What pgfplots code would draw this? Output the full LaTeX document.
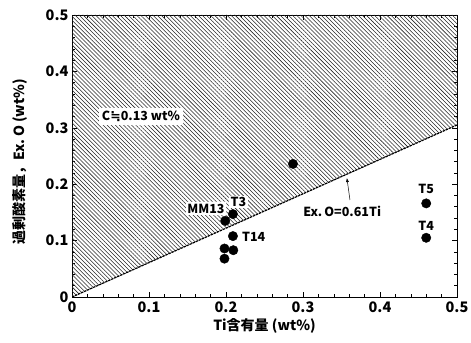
\documentclass[border=0pt]{standalone}
\usepackage{pgfplots}
\pgfplotsset{compat=1.18}
\usepackage{fontspec}
\setmainfont{Noto Sans CJK JP}
\newfontfamily\dejavu{DejaVu Sans}
\usetikzlibrary{patterns.meta,arrows.meta}
\begin{document}
\begin{tikzpicture}
\begin{axis}[
  scale only axis, width=385pt, height=282pt,
  xmin=0, xmax=0.5, ymin=0, ymax=0.5,
  xtick={0,0.1,0.2,0.3,0.4,0.5},
  ytick={0,0.1,0.2,0.3,0.4,0.5},
  xticklabels={0,0.1,0.2,0.3,0.4,0.5},
  yticklabels={0,0.1,0.2,0.3,0.4,0.5},
  minor tick num=4,
  tick align=inside,
  xtick pos=both, ytick pos=both,
  major tick length=5pt, minor tick length=3pt,
  axis line style={line width=0.9pt},
  tick style={black, line width=0.6pt},
  /pgf/number format/assume math mode=true,
  tick label style={font=\fontsize{14.5}{15}\selectfont\bfseries},
  xticklabel style={yshift=-1pt},
  xlabel={Ti含有量 (wt\%)},
  ylabel={過剰酸素量，Ex.\,O (wt\%)},
  every axis x label/.style={at={(axis description cs:0.5,-0.103)}, anchor=center, font=\fontsize{14}{15}\selectfont\bfseries},
  every axis y label/.style={at={(axis description cs:-0.135,0.48)}, anchor=center, rotate=90, font=\fontsize{14}{15}\selectfont\bfseries},
]
\addplot[draw=none, pattern={Lines[angle=-45,distance=2.9pt,line width=0.55pt]}, pattern color=black!85]
  coordinates {(0,0) (0.5,0.305) (0.5,0.5) (0,0.5)} -- cycle;
\addplot[black, line width=1.2pt, dash pattern=on 2.5pt off 0.8pt]
  coordinates {(0,0) (0.5,0.305)};
\node[fill=white, inner sep=3pt, font=\fontsize{12.5}{13}\selectfont\bfseries] at (axis cs:0.0896,0.32) {C{\dejavu\bfseries ≒}0.13 wt\%};
\node[fill=white, inner sep=1.5pt, font=\fontsize{12.5}{13}\selectfont\bfseries] at (axis cs:0.174,0.157) {MM13};
\node[fill=white, inner sep=1.5pt, font=\fontsize{12.5}{13}\selectfont\bfseries] at (axis cs:0.216,0.168) {T3};
\node[font=\fontsize{12.5}{13}\selectfont\bfseries] at (axis cs:0.236,0.106) {T14};
\node[font=\fontsize{12.5}{13}\selectfont\bfseries] at (axis cs:0.46,0.191) {T5};
\node[font=\fontsize{12.5}{13}\selectfont\bfseries] at (axis cs:0.46,0.127) {T4};
\node[font=\fontsize{12.5}{13}\selectfont\bfseries] at (axis cs:0.351,0.151) {Ex.\,O=0.61Ti};
\draw[-{Latex[length=4pt]}, line width=0.5pt] (axis cs:0.361,0.172) -- (axis cs:0.357,0.211);
\addplot[only marks, mark=*, mark size=4.7pt, black] coordinates {
  (0.287,0.236) (0.209,0.147) (0.199,0.135) (0.209,0.108)
  (0.198,0.086) (0.2095,0.083) (0.198,0.068)
  (0.46,0.166) (0.46,0.105)
};
\end{axis}
\pgfresetboundingbox
\useasboundingbox ([shift={(-72pt,-45pt)}]current axis.south west) rectangle ([shift={(14pt,15pt)}]current axis.north east);
\end{tikzpicture}
\end{document}
